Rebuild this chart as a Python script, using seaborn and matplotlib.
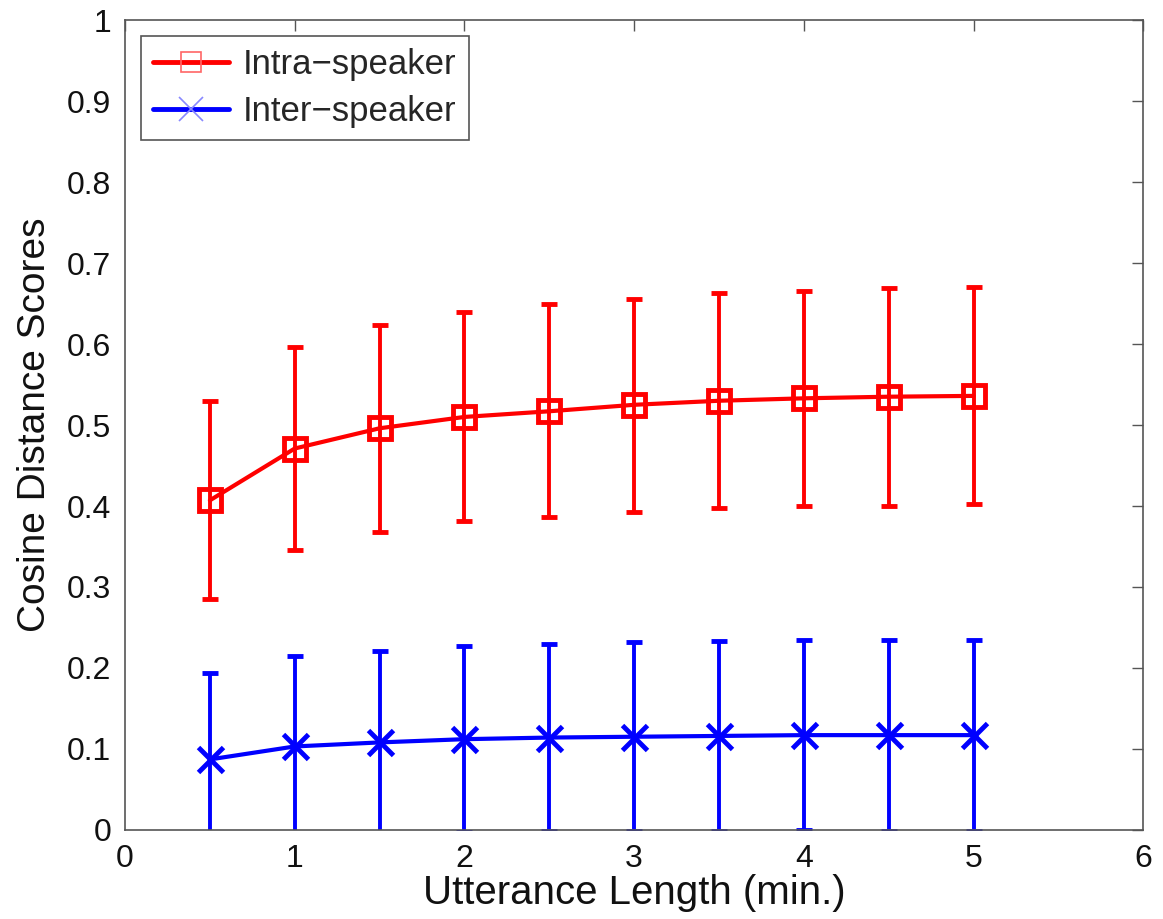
import matplotlib
matplotlib.use('Agg')
import matplotlib.pyplot as plt
from matplotlib.lines import Line2D
import seaborn as sns
import pandas as pd

# 데이터
lengths = [0.5, 1, 1.5, 2, 2.5, 3, 3.5, 4, 4.5, 5]
intra_mean = [0.407, 0.471, 0.496, 0.510, 0.517, 0.525, 0.530, 0.533, 0.535, 0.536]
intra_upper = [0.530, 0.597, 0.624, 0.640, 0.649, 0.656, 0.663, 0.666, 0.669, 0.670]
intra_lower = [0.285, 0.346, 0.368, 0.381, 0.387, 0.393, 0.398, 0.400, 0.400, 0.402]
inter_mean = [0.087, 0.103, 0.108, 0.112, 0.114, 0.115, 0.116, 0.117, 0.117, 0.117]
inter_upper = [0.194, 0.215, 0.221, 0.227, 0.229, 0.232, 0.233, 0.234, 0.235, 0.235]

sns.set_style('white')
plt.rcParams['font.family'] = ['Liberation Sans', 'DejaVu Sans']

intra_df = pd.DataFrame({'length': lengths, 'score': intra_mean})
inter_df = pd.DataFrame({'length': lengths, 'score': inter_mean})

fig = plt.figure(figsize=(11.63, 9.19), dpi=100)
ax = fig.add_axes([0.1075, 0.097, 0.8755, 0.881])

# 에러바 (inter는 대칭, 아래쪽은 0에서 잘림)
intra_err = [[m - lo for m, lo in zip(intra_mean, intra_lower)],
             [up - m for m, up in zip(intra_mean, intra_upper)]]
inter_err = [up - m for m, up in zip(inter_mean, inter_upper)]
ax.errorbar(lengths, intra_mean, yerr=intra_err, fmt='none', ecolor='#ff0000',
            elinewidth=2.8, capsize=6, capthick=3.5, zorder=2)
ax.errorbar(lengths, inter_mean, yerr=inter_err, fmt='none', ecolor='#0000ff',
            elinewidth=2.8, capsize=6, capthick=3.5, zorder=2)

# 평균선
sns.lineplot(data=intra_df, x='length', y='score', color='#ff0000', marker='s',
             linewidth=3, markersize=16, markerfacecolor='none', markeredgecolor='#ff0000',
             markeredgewidth=3.5, ax=ax, zorder=3)
sns.lineplot(data=inter_df, x='length', y='score', color='#0000ff', marker='x',
             linewidth=3, markersize=18, markeredgecolor='#0000ff',
             markeredgewidth=3.5, ax=ax, zorder=3)

ax.set_xlim(0, 6)
ax.set_ylim(0, 1)
ax.set_xticks(range(0, 7))
ax.set_yticks([i / 10 for i in range(11)])
ax.set_yticklabels(['0'] + [f'{i / 10:.1f}' for i in range(1, 10)] + ['1'])
ax.tick_params(direction='in', length=8, width=1, top=True, right=True,
               labelsize=23, labelcolor='#111111', color='#555555', pad=10)
for sp in ax.spines.values():
    sp.set_color('#555555')
    sp.set_linewidth(1.2)
ax.set_xlabel('Utterance Length (min.)', fontsize=29, labelpad=0, color='#111111')
ax.set_ylabel('Cosine Distance Scores', fontsize=28, labelpad=10, color='#111111')

handles = [Line2D([], [], color='#ff0000', lw=3.5, marker='s', markersize=15,
                  markerfacecolor='none', markeredgecolor='#ff6666', markeredgewidth=1.2),
           Line2D([], [], color='#0000ff', lw=3.5, marker='x', markersize=17,
                  markeredgecolor='#8888ff', markeredgewidth=1.2)]
leg = ax.legend(handles, ['Intra\u2212speaker', 'Inter\u2212speaker'], loc='upper left',
                fontsize=25, fancybox=False, framealpha=1, edgecolor='#555555',
                handlelength=2.2, borderpad=0.35, labelspacing=0.4,
                borderaxespad=0.45, handletextpad=0.4)
leg.get_frame().set_linewidth(1.2)

plt.savefig('out.png', dpi=100)
